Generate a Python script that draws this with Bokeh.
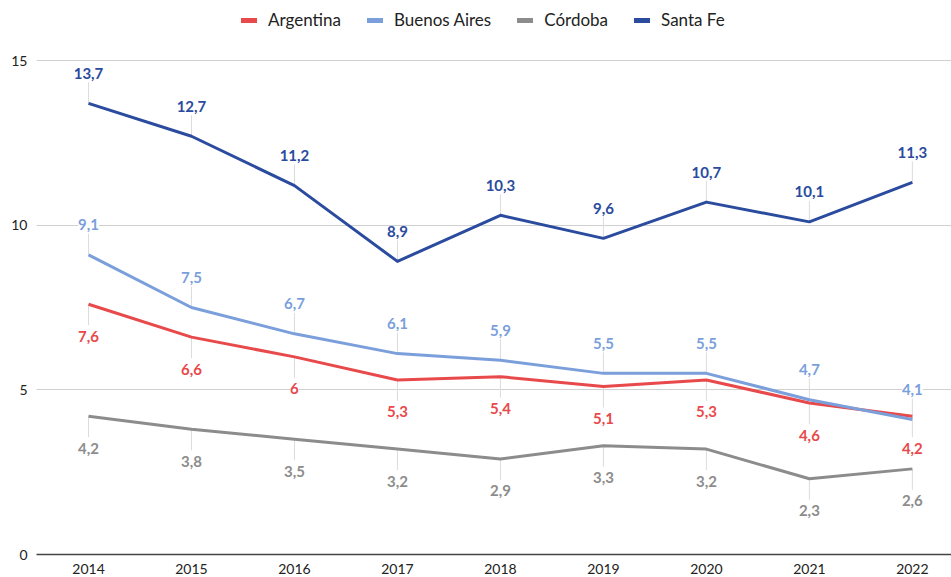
from bokeh.plotting import figure
from bokeh.models import (ColumnDataSource, Range1d, FixedTicker, Legend, LegendItem,
                          LabelSet)
from bokeh.core.properties import value
from bokeh.embed import file_html
from bokeh.resources import INLINE

years = [2014, 2015, 2016, 2017, 2018, 2019, 2020, 2021, 2022]
argentina = [7.6, 6.6, 6.0, 5.3, 5.4, 5.1, 5.3, 4.6, 4.2]
buenos_aires = [9.1, 7.5, 6.7, 6.1, 5.9, 5.5, 5.5, 4.7, 4.1]
cordoba = [4.2, 3.8, 3.5, 3.2, 2.9, 3.3, 3.2, 2.3, 2.6]
santa_fe = [13.7, 12.7, 11.2, 8.9, 10.3, 9.6, 10.7, 10.1, 11.3]
y_ticks = [0, 5, 10, 15]

series = [
    ("Argentina", argentina, "#e8494b", "below"),
    ("Buenos Aires", buenos_aires, "#7b9fdb", "above"),
    ("Córdoba", cordoba, "#8c8c8c", "below"),
    ("Santa Fe", santa_fe, "#2a4b9e", "above"),
]

W, H = 951, 577
TOP, BOTTOM, LEFT = 0, 23, 36
TOP15 = 60            # pixel row of the 15 gridline
FONT = "Lato"
frame_bottom = H - BOTTOM
frame_h = frame_bottom - TOP
ppu = (frame_bottom - TOP15) / 15.0
y_max = 15 + (TOP15 - TOP) / ppu
LABEL_OFF = 30
LEADER = 21

p = figure(width=W, height=H, output_backend="svg", toolbar_location=None,
           x_range=Range1d(2013.495, 2022.38), y_range=Range1d(0, y_max),
           min_border_left=LEFT, min_border_right=0, min_border_top=TOP,
           min_border_bottom=BOTTOM)
p.outline_line_color = None
p.background_fill_color = "white"
p.border_fill_color = "white"

p.xgrid.grid_line_color = None
p.ygrid.grid_line_color = "#d0d0d0"
p.ygrid.grid_line_width = 1
p.yaxis.ticker = FixedTicker(ticks=y_ticks)
p.xaxis.ticker = FixedTicker(ticks=years)
for ax in (p.xaxis, p.yaxis):
    ax.major_tick_line_color = None
    ax.minor_tick_line_color = None
    ax.major_tick_out = 0
    ax.major_tick_in = 0
    ax.major_label_text_font = FONT
    ax.major_label_text_font_size = "14px"
    ax.major_label_text_color = "#222222"
p.yaxis.axis_line_color = None
p.yaxis.major_label_standoff = 9
p.xaxis.axis_line_color = "#444444"
p.xaxis.axis_line_width = 1.3
p.xaxis.major_label_standoff = 9

# leader lines
for name, vals, color, pos in series:
    sign = 1 if pos == "above" else -1
    y1 = [v + sign * LEADER / ppu for v in vals]
    p.segment(x0=years, y0=vals, x1=years, y1=y1, line_color="#dcdcdc", line_width=1)

items = []
for name, vals, color, pos in series:
    p.line(years, vals, line_color=color, line_width=3, line_join="round")
    swatch = p.line(years, vals, line_color=color, line_width=5, line_cap="round",
                    visible=False)
    items.append(LegendItem(label=name, renderers=[swatch]))

for name, vals, color, pos in series:
    labels = [f"{v:g}".replace(".", ",") for v in vals]
    src = ColumnDataSource(dict(x=years, y=vals, t=labels))
    ls = LabelSet(x="x", y="y", text="t", source=src,
                  y_offset=LABEL_OFF if pos == "above" else -LABEL_OFF - 2,
                  text_align="center", text_baseline="middle",
                  text_font=value(FONT), text_font_style="bold",
                  text_font_size="15px", text_color=color,
                  background_fill_color="white", background_fill_alpha=1.0)
    p.add_layout(ls)

LEG_H = 20
legend = Legend(items=items, orientation="horizontal",
                location=(241 - LEFT, frame_h - 10 - LEG_H),
                glyph_width=16, glyph_height=LEG_H, label_standoff=11, spacing=26,
                label_text_font=FONT, label_text_font_size="17px",
                label_text_color="#222222", border_line_color=None,
                background_fill_alpha=0, inactive_fill_alpha=0,
                padding=0, margin=0, label_height=LEG_H)
p.add_layout(legend, "center")

open("out.html", "w").write(file_html(p, INLINE))
